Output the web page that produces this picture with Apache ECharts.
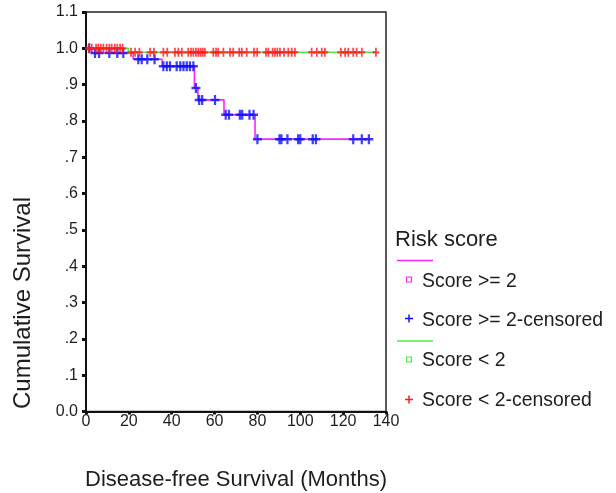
<!DOCTYPE html>
<html><head><meta charset="utf-8">
<script src="https://cdn.jsdelivr.net/npm/echarts@6.0.0/dist/echarts.min.js"></script>
<style>html,body{margin:0;padding:0;background:#fff}#c{width:616px;height:493px}</style>
</head><body><div id="c"></div>
<script>
// ---- data ----
const xTickValues = [0, 20, 40, 60, 80, 100, 120, 140];
const yTickLabels = ['0.0', '.1', '.2', '.3', '.4', '.5', '.6', '.7', '.8', '.9', '1.0', '1.1'];

// Score >= 2 : Kaplan-Meier step points (time, cumulative survival)
const highTimes = [0, 2.5, 22.0, 35.5, 50.6, 52.2, 64.4, 78.9, 132.8];
const highSurv  = [1.000, 0.987, 0.970, 0.951, 0.891, 0.858, 0.817, 0.750, 0.750];

// Score >= 2 censored marks
const highCensTimes = [1.5, 4.2, 6.1, 10.9, 14.6, 17.4,
  24.4, 26.0, 28.6, 32.0,
  36.1, 37.7, 39.2, 42.3, 44.0, 45.5, 47.0, 48.5, 50.1,
  51.3,
  52.8, 54.2, 60.2,
  65.2, 66.7, 71.8, 72.9, 76.3, 78.2,
  80.0, 90.3, 91.2, 94.0, 99.0, 100.0, 105.8, 107.3, 124.7, 128.7, 132.0];
const highCensSurv = [1.000, 0.987, 0.987, 0.987, 0.987, 0.987,
  0.970, 0.970, 0.970, 0.970,
  0.951, 0.951, 0.951, 0.951, 0.951, 0.951, 0.951, 0.951, 0.951,
  0.891,
  0.858, 0.858, 0.858,
  0.817, 0.817, 0.817, 0.817, 0.817, 0.817,
  0.750, 0.750, 0.750, 0.750, 0.750, 0.750, 0.750, 0.750, 0.750, 0.750, 0.750];

// Score < 2 : Kaplan-Meier step points
const lowTimes = [0, 19.8, 135.3];
const lowSurv  = [1.000, 0.989, 0.989];

// Score < 2 censored marks
const lowCensTimes = [1.2, 2.7, 4.7, 5.7, 6.9, 8.1, 9.6, 10.9, 12.0, 13.5, 14.6, 15.9, 17.1,
  21.0, 22.9, 24.9, 29.9, 31.7, 36.1, 37.9, 41.5, 43.1, 44.7, 47.7, 49.0, 50.1, 51.3, 52.4,
  53.5, 54.5, 55.5, 59.4, 60.7, 61.7, 64.1, 67.2, 68.7, 71.5, 72.7, 75.0, 78.4, 79.9, 84.0,
  85.1, 87.1, 88.2, 89.3, 90.5, 92.4, 94.4, 96.0, 97.5, 105.3, 107.7, 110.0, 111.5, 118.9,
  120.9, 122.4, 124.7, 126.3, 128.7, 135.3];
const lowCensSurv = [1.000, 1.000, 1.000, 1.000, 1.000, 1.000, 1.000, 1.000, 1.000, 1.000, 1.000, 1.000, 1.000,
  0.989, 0.989, 0.989, 0.989, 0.989, 0.989, 0.989, 0.989, 0.989, 0.989, 0.989, 0.989, 0.989, 0.989, 0.989,
  0.989, 0.989, 0.989, 0.989, 0.989, 0.989, 0.989, 0.989, 0.989, 0.989, 0.989, 0.989, 0.989, 0.989, 0.989,
  0.989, 0.989, 0.989, 0.989, 0.989, 0.989, 0.989, 0.989, 0.989, 0.989, 0.989, 0.989, 0.989, 0.989,
  0.989, 0.989, 0.989, 0.989, 0.989, 0.989];

const seriesNames = ['Score >= 2', 'Score >= 2-censored', 'Score < 2', 'Score < 2-censored'];
const legendTitle = 'Risk score';
const xTitle = 'Disease-free Survival (Months)';
const yTitle = 'Cumulative Survival';

// ---- styles ----
const FONT = '"Liberation Sans", Arial, sans-serif';
const TXT = '#1e1e1e';
const C_MAG = '#ff22ff', C_BLUE = '#0f0fff', C_GREEN = '#44ee44', C_RED = '#ff1a1a';
const PLUS = 'path://M0,3H8V5H0Z M3,0H5V8H3Z';

const zip = (a, b) => a.map((v, i) => [v, b[i]]);

const chart = echarts.init(document.getElementById('c'), null, {renderer: 'canvas'});
chart.setOption({
  animation: false,
  backgroundColor: '#fff',
  grid: {left: 86, top: 12, right: 230, bottom: 81.4, outerBoundsMode: 'none', containLabel: false,
    show: true, borderColor: '#222', borderWidth: 1.5, backgroundColor: 'transparent'},
  xAxis: {
    type: 'value', min: 0, max: 140, interval: 20,
    axisLine: {show: true, onZero: false, lineStyle: {color: '#111', width: 2}},
    axisTick: {show: true, length: 3, lineStyle: {color: '#111', width: 3}},
    splitLine: {show: false},
    axisLabel: {margin: 2, fontSize: 16, fontFamily: FONT, color: TXT,
      formatter: v => xTickValues.indexOf(v) >= 0 ? String(v) : ''},
    name: xTitle, nameLocation: 'middle', nameGap: 57,
    nameTextStyle: {fontSize: 22, fontFamily: FONT, color: TXT}
  },
  yAxis: {
    type: 'value', min: 0, max: 1.1, interval: 0.1,
    axisLine: {show: true, onZero: false, lineStyle: {color: '#111', width: 2}},
    axisTick: {show: true, length: 4, lineStyle: {color: '#111', width: 3}},
    splitLine: {show: false},
    axisLabel: {margin: 8, fontSize: 16, fontFamily: FONT, color: TXT,
      formatter: v => yTickLabels[Math.round(v * 10)]}
  },
  graphic: [
    {type: 'text', x: 23, y: 303, rotation: Math.PI / 2,
      style: {text: yTitle, font: '24px ' + FONT, fill: TXT, align: 'center', verticalAlign: 'middle'}},
    {type: 'text', x: 395, y: 240, style: {text: legendTitle, font: '22px ' + FONT, fill: TXT, align: 'left', verticalAlign: 'middle'}},
    {type: 'line', shape: {x1: 397, y1: 260.5, x2: 433, y2: 260.5}, style: {stroke: C_MAG, lineWidth: 1.5}},
    {type: 'rect', shape: {x: 406.5, y: 277, width: 5, height: 5}, style: {stroke: C_MAG, fill: 'none', lineWidth: 1.2}},
    {type: 'text', x: 422, y: 281.5, style: {text: seriesNames[0], font: '19.4px ' + FONT, fill: TXT, align: 'left', verticalAlign: 'middle'}},
    {type: 'line', shape: {x1: 405, y1: 318.5, x2: 413, y2: 318.5}, style: {stroke: C_BLUE, lineWidth: 1.5}},
    {type: 'line', shape: {x1: 409, y1: 314.5, x2: 409, y2: 322.5}, style: {stroke: C_BLUE, lineWidth: 1.5}},
    {type: 'text', x: 422, y: 320.5, style: {text: seriesNames[1], font: '19.4px ' + FONT, fill: TXT, align: 'left', verticalAlign: 'middle'}},
    {type: 'line', shape: {x1: 397, y1: 341, x2: 433, y2: 341}, style: {stroke: C_GREEN, lineWidth: 1.5}},
    {type: 'rect', shape: {x: 406.5, y: 357, width: 5, height: 5}, style: {stroke: C_GREEN, fill: 'none', lineWidth: 1.2}},
    {type: 'text', x: 422, y: 361, style: {text: seriesNames[2], font: '19.4px ' + FONT, fill: TXT, align: 'left', verticalAlign: 'middle'}},
    {type: 'line', shape: {x1: 405, y1: 399.5, x2: 413, y2: 399.5}, style: {stroke: C_RED, lineWidth: 1.5}},
    {type: 'line', shape: {x1: 409, y1: 395.5, x2: 409, y2: 403.5}, style: {stroke: C_RED, lineWidth: 1.5}},
    {type: 'text', x: 422, y: 401, style: {text: seriesNames[3], font: '19.4px ' + FONT, fill: TXT, align: 'left', verticalAlign: 'middle'}}
  ],
  series: [
    {name: seriesNames[0], type: 'line', step: 'end', data: zip(highTimes, highSurv), showSymbol: false,
      lineStyle: {color: C_MAG, width: 1.6}, z: 2},
    {name: seriesNames[2], type: 'line', step: 'end', data: zip(lowTimes, lowSurv), showSymbol: false,
      lineStyle: {color: C_GREEN, width: 1.6}, z: 2},
    {name: seriesNames[1], type: 'scatter', data: zip(highCensTimes, highCensSurv), symbol: PLUS, symbolSize: [9, 10],
      itemStyle: {color: C_BLUE}, z: 3},
    {name: seriesNames[3], type: 'scatter', data: zip(lowCensTimes, lowCensSurv), symbol: PLUS, symbolSize: [7, 9],
      itemStyle: {color: C_RED}, z: 4}
  ]
});
</script></body></html>
